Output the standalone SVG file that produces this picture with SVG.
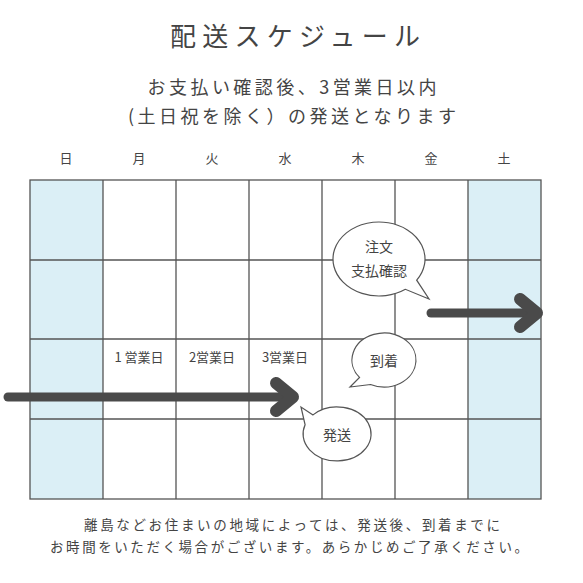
<svg xmlns="http://www.w3.org/2000/svg" width="583" height="583" viewBox="0 0 583 583">
<style>
text{font-family:"Noto Sans CJK JP","Noto Sans",sans-serif;fill:#444;text-anchor:middle}
.day{font-size:13px}
.grid{stroke:#555;stroke-width:1.3;fill:none}
.arrow{stroke:#4a4a4a;fill:none;stroke-linecap:round;stroke-linejoin:round}
.bubble{fill:#fff;stroke:#555;stroke-width:1.2}
.bt{font-size:14px}
</style>
<rect width="583" height="583" fill="#fff"/>
<g id="title">
<text x="295" y="46" font-size="26" textLength="250" lengthAdjust="spacing">配送スケジュール</text>
<text x="292" y="94" font-size="18" textLength="289" lengthAdjust="spacing">お支払い確認後、3営業日以内</text>
<text x="292" y="123" font-size="18" textLength="328" lengthAdjust="spacing">(土日祝を除く）の発送となります</text>
</g>
<g id="days" class="day">
<text x="66" y="163">日</text><text x="139" y="163">月</text><text x="212" y="163">火</text><text x="285" y="163">水</text><text x="358" y="163">木</text><text x="431" y="163">金</text><text x="504" y="163">土</text>
</g>
<g id="calendar">
<rect x="30" y="180" width="73" height="319" fill="#dbeff6"/>
<rect x="468" y="180" width="73" height="319" fill="#dbeff6"/>
<rect class="grid" x="30" y="180" width="511" height="319"/>
<path class="grid" d="M103,180V499M176,180V499M249,180V499M322,180V499M395,180V499M468,180V499M30,260H541M30,339H541M30,419H541"/>
<g font-size="13"><text x="139" y="362">1 営業日</text><text x="212" y="362">2営業日</text><text x="285" y="362">3営業日</text></g>
</g>
<g id="connectors">
<path class="arrow" stroke-width="9" d="M8,397H290"/>
<path class="arrow" stroke-width="12" d="M276,383L293,397L276,411"/>
<path class="arrow" stroke-width="9" d="M431,313H535"/>
<path class="arrow" stroke-width="12" d="M520,299L537,313L520,327"/>
</g>
<g id="bubble-order">
<path class="bubble" d="M405.4,289.3A46,37 0 1 1 416.7,280.2L429,299Z"/>
<text class="bt" x="379" y="252">注文</text><text class="bt" x="379" y="276">支払確認</text>
</g>
<g id="bubble-arrival">
<path class="bubble" d="M359.5,377.4A32,27 0 1 1 370.5,384.5L350,387Z"/>
<text class="bt" x="384" y="366">到着</text>
</g>
<g id="bubble-ship">
<path class="bubble" d="M313,414.9A34,27 0 1 1 305.1,424.8L301,407Z"/>
<text class="bt" x="337" y="440">発送</text>
</g>
<g id="note">
<text x="292" y="530" font-size="13.5" textLength="416" lengthAdjust="spacing">離島などお住まいの地域によっては、発送後、到着までに</text>
<text x="289" y="552" font-size="13.5" textLength="478" lengthAdjust="spacing">お時間をいただく場合がございます。あらかじめご了承ください。</text>
</g>
</svg>
